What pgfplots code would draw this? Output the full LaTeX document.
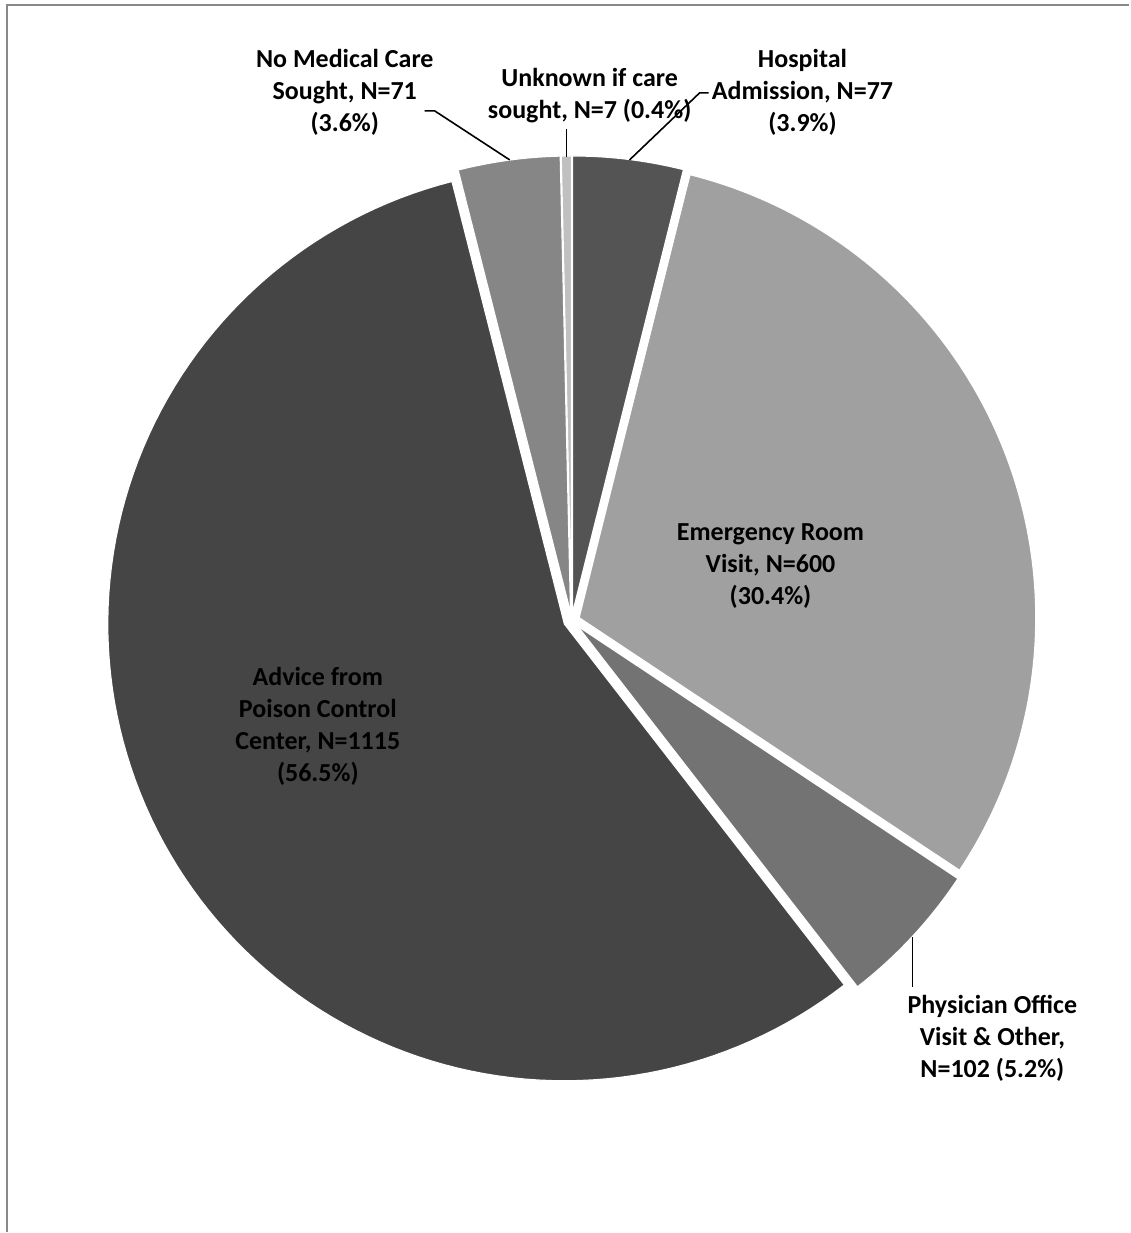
\documentclass[border=0pt]{standalone}
\usepackage{pgfplots}
\pgfplotsset{compat=1.18}
\usepackage{fontspec}
\setmainfont{Carlito}
\definecolor{cHosp}{HTML}{545454}
\definecolor{cER}{HTML}{A0A0A0}
\definecolor{cPhys}{HTML}{737373}
\definecolor{cAdv}{HTML}{454545}
\definecolor{cNoMed}{HTML}{868686}
\definecolor{cUnk}{HTML}{C0C0C0}
\definecolor{frame}{HTML}{888888}
\begin{document}
\begin{tikzpicture}
% values: Hospital 77, ER 600, Physician 102, Advice 1115, No care 71, Unknown 7
\pgfmathsetmacro{\tot}{77+600+102+1115+71+7}
\pgfmathsetmacro{\aA}{90}
\pgfmathsetmacro{\aB}{\aA-77/\tot*360}
\pgfmathsetmacro{\aC}{\aB-600/\tot*360}
\pgfmathsetmacro{\aD}{\aC-102/\tot*360}
\pgfmathsetmacro{\aE}{\aD-1115/\tot*360}
\pgfmathsetmacro{\aF}{\aE-71/\tot*360}
\pgfmathsetmacro{\aG}{\aF-7/\tot*360}
\def\cx{572}\def\cy{612}\def\R{457}\def\d{8}
\newcommand\slice[3]{%
 \pgfmathsetmacro{\m}{(#1+#2)/2}%
 \pgfmathsetmacro{\ox}{\cx+\d*cos(\m)}%
 \pgfmathsetmacro{\oy}{\cy+\d*sin(\m)}%
 \edef\temp{\noexpand\addplot[fill=#3, draw=white, line width=0.6pt, domain=#2:#1, samples=120] ({\ox+\R*cos(x)},{\oy+\R*sin(x)}) -- (axis cs:\ox,\oy) -- cycle;}%
 \temp}
\begin{axis}[hide axis, scale only axis, width=565pt, height=616.5pt,
  xmin=0, xmax=1130, ymin=0, ymax=1233, clip=false]
\path (axis cs:0,0) rectangle (axis cs:1130,1233);
\draw[frame, line width=0.8pt] (axis cs:7,0) -- (axis cs:7,1228) -- (axis cs:1130,1228);
\slice{\aA}{\aB}{cHosp}
\slice{\aB}{\aC}{cER}
\slice{\aC}{\aD}{cPhys}
\slice{\aD}{\aE}{cAdv}
\slice{\aE}{\aF}{cNoMed}
\slice{\aF}{\aG}{cUnk}
% leader lines
\addplot[black, line width=0.8pt] coordinates {(425,1122) (435,1122) (510,1073)};
\addplot[black, line width=0.8pt] coordinates {(567,1104) (567,1076)};
\addplot[black, line width=0.8pt] coordinates {(630,1073) (700,1140) (709,1140)};
\addplot[black, line width=0.8pt] coordinates {(913,295) (913,245)};
% labels
\tikzset{lab/.style={align=center, font=\bfseries\fontsize{13}{16}\selectfont, inner sep=0pt}}
\node[lab] at (axis cs:345,1141) {No Medical Care\\Sought, N=71\\(3.6\%)};
\node[lab] at (axis cs:590,1137) {Unknown if care\\sought, N=7 (0.4\%)};
\node[lab] at (axis cs:803,1141) {Hospital\\Admission, N=77\\(3.9\%)};
\node[lab] at (axis cs:771,667) {Emergency Room\\Visit, N=600\\(30.4\%)};
\node[lab] at (axis cs:318,506) {Advice from\\Poison Control\\Center, N=1115\\(56.5\%)};
\node[lab] at (axis cs:993,194) {Physician Office\\Visit \& Other,\\N=102 (5.2\%)};
\end{axis}
\end{tikzpicture}
\end{document}
